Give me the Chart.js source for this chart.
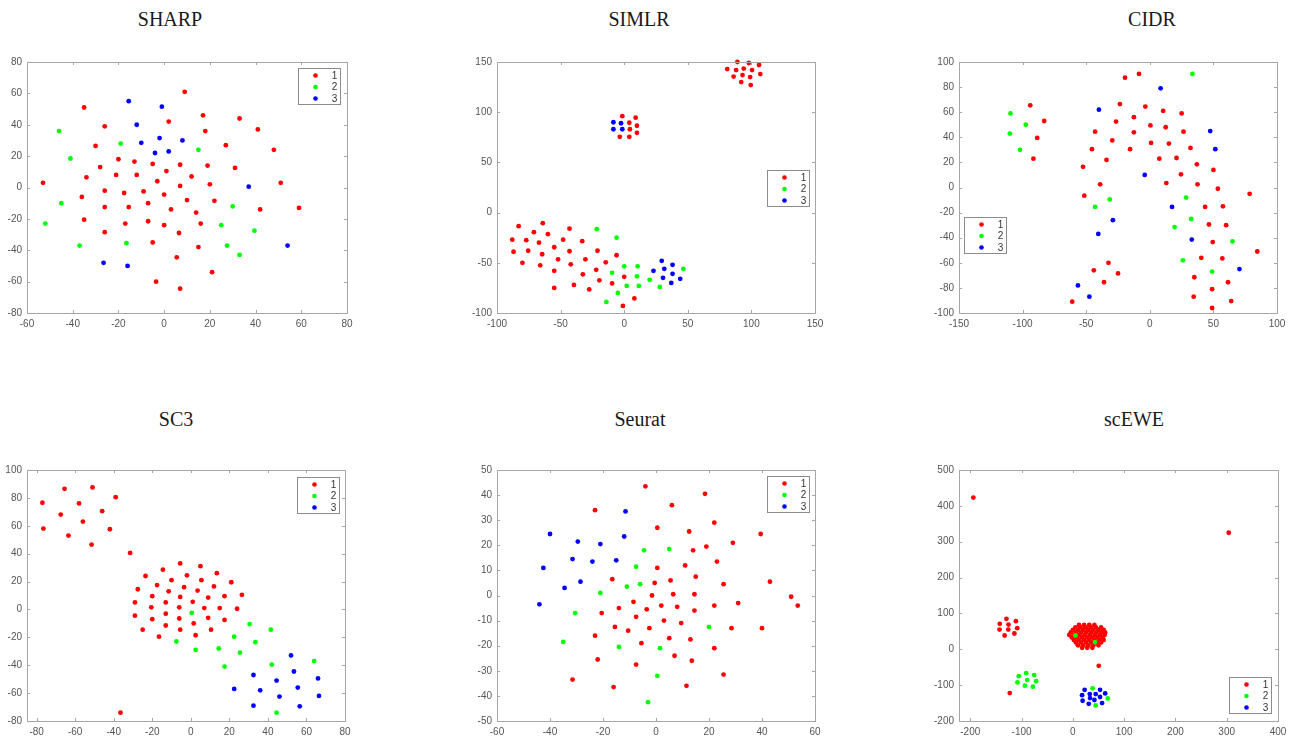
<!DOCTYPE html>
<html>
<head>
<meta charset="utf-8">
<title>Clustering comparison</title>
<script src="https://cdn.jsdelivr.net/npm/chart.js@4.4.0/dist/chart.umd.min.js"></script>
<style>
  body { margin: 0; background: #fff; }
  #page { position: relative; width: 1296px; height: 739px; overflow: hidden; }
  .title {
    position: absolute;
    font-family: "Liberation Serif", "Times New Roman", serif;
    font-size: 20px;
    line-height: 24px;
    color: #1a1a1a;
    transform: translateX(-50%);
    white-space: nowrap;
  }
  .panel { position: absolute; }
</style>
</head>
<body>
<div id="page"></div>
<script>
// Legend / series
const clusterLabels = ["1", "2", "3"];
const clusterColors = ["#ff0000", "#00ff00", "#0000ff"];

// SHARP
const sharpRed = [[9,61],[-35,51],[17,46],[33,44],[-26,39],[2,42],[18,36],[41,37],[-30,26.5],[27,27],[48,24],[-20,18],[-13,16.5],[-28,13],[-5,15],[7,14.5],[19,14],[31,12.5],[1,10.5],[-34,6.5],[-21,8],[-12,8],[12,7],[-3,4],[-53,3],[51,3],[7,1],[20,2],[-36,-6],[-26,-2],[-17.5,-3.5],[-9,-2.5],[0,-4.5],[-7,-10],[10,-8],[22,-8.5],[-26,-12.5],[-15.5,-12.5],[3,-14],[14,-16],[42,-14],[59,-13],[-35,-20.5],[-7,-21.5],[-17,-23],[0,-24],[16,-23],[-26,-28.5],[6.5,-29],[-5,-35],[15,-38],[5.5,-44.5],[21,-54],[-3.5,-60],[7,-64.5]];
const sharpGreen = [[-46,36],[-41,18.5],[-19,28],[15,24],[-45,-10],[-52,-23],[-37,-37],[-16.5,-35.5],[30,-12],[25,-24],[39.5,-27.5],[27.5,-37],[33,-43]];
const sharpBlue = [[-15.5,55],[-1,51.5],[-12,40],[-2,31.5],[-10,28.5],[8,30],[-4,22],[2,23],[37,0.5],[54,-37],[-26.5,-48],[-16,-50]];
const sharpXTicks = [-60,-40,-20,0,20,40,60,80];
const sharpYTicks = [-80,-60,-40,-20,0,20,40,60,80];

// SIMLR
const simlrRed = [[89,150],[98,149],[106,147],[81,143],[88,142],[94,143.5],[100.5,142],[86,135.5],[93,137],[99,135],[107,138],[92,130],[99.5,127],
  [-1.5,96],[9,94.5],[4,89.5],[10,86.5],[4.5,83],[10,79.5],[-3.5,75.5],[4,75.5],
  [-83,-13.5],[-64,-10.5],[-43,-16],[-71,-19.5],[-60,-21.5],[-88,-27],[-77,-27.5],[-67,-30],[-48,-27],[-33,-28.5],[-87,-39],[-75.5,-38],[-64.5,-41.5],[-55,-34.5],[-43,-38.5],[-21,-38],[-6,-42.5],[-80,-50],[-66,-52.5],[-52,-46.5],[-42,-51.5],[-30.5,-46.5],[-14.5,-49.5],[-55,-58],[-22,-57],[-32.5,-61.5],[0,-64],[-19.5,-67.5],[-9.5,-70.5],[-55,-75],[-39.5,-72],[-27.5,-76.5],[8,-85.5],[-1,-93]];
const simlrGreen = [[-21.5,-16.5],[-6,-25],[0,-53.5],[10.5,-53.5],[-9.5,-60],[10,-63.5],[20,-67],[2,-73],[11.5,-73],[28,-74],[-5,-80],[-14,-89],[46.5,-56]];
const simlrBlue = [[-8.5,90],[-2.5,89],[-8.5,83],[-1.5,83],[29.5,-48],[38,-52],[23,-58],[31.5,-56],[38,-61],[30.5,-65],[44,-66],[37,-70]];
const simlrXTicks = [-100,-50,0,50,100,150];
const simlrYTicks = [-100,-50,0,50,100,150];

// CIDR
const cidrRed = [[-19.5,87.5],[-8.5,90.5],[-23.5,66.5],[-3.5,64.5],[10.5,61],[25,59],[-12.5,56],[-26.5,52.5],[0.5,49.5],[12.5,48],[-43,44.5],[-12.5,44],[26.5,44.5],[-29.5,37.5],[1,35.5],[15,35],[-45.5,30.5],[-15.5,30.5],[32,31.5],[-34,22],[7.5,23],[21,23.5],[37,18.5],[-52.5,16.5],[50,14],[24.5,10.5],[-39,2.5],[13,3.5],[37.5,2.5],[53.5,-1],[-51.5,-6.5],[78.5,-5],[43.5,-15.5],[57.5,-15],[46.5,-29.5],[60,-30],[49.5,-43.5],[84.5,-51],[40.5,-56],[57,-56.5],[-32.5,-60],[-44,-66],[-25,-68.5],[-36,-75.5],[35,-71.5],[61.5,-75.5],[49,-81],[-61,-91],[34.5,-87],[64,-90.5],[49,-96],[-94,65.5],[-83,53],[-88.5,39.5],[-91.5,23]];
const cidrGreen = [[-109.5,59],[-97.5,50],[-110,43],[-102,30],[33.5,90.5],[-31.5,-9.5],[-43,-15.5],[28.5,-8],[32.5,-25],[19.5,-31.5],[65,-43],[26,-58],[49,-67]];
const cidrBlue = [[8.5,79],[-40,62],[47.5,45],[51.5,30.5],[-4,10],[17.5,-15.5],[-29,-26],[-40.5,-37],[33,-41.5],[70.5,-65],[-56.5,-78],[-47.5,-87]];
const cidrXTicks = [-150,-100,-50,0,50,100];
const cidrYTicks = [-100,-80,-60,-40,-20,0,20,40,60,80,100];

// SC3
const sc3Red = [[-77,76.5],[-65.5,86.5],[-51,87.5],[-76.5,58],[-67.5,68],[-58,76],[-63.5,53],[-56,63],[-46,70.5],[-39,80.5],[-42,57.5],[-51.5,46.5],[-31.5,40.5],[-36.5,-74],
  [-5.5,33],[5,31],[-14.5,28.5],[13.5,26],[-23.5,24],[-2,24.5],[-10,21],[5.5,21],[21,19.5],[-17.5,17.5],[-3.5,16],[12,16.5],[-27.5,14.5],[-11.5,13],[3.5,13.5],[26.5,10.5],[-5.5,9],[-20,9.5],[9,8.5],[17.5,9.5],[-29,5],[-13,5],[1,5.5],[-20.5,1.5],[-6,1.5],[7,1],[15,1],[24,0.5],[-13,-3],[-29,-4.5],[-20,-7],[-6,-6.5],[9,-6],[17.5,-7.5],[1.5,-10],[-13,-11.5],[-25,-14.5],[-5.5,-14.5],[10.5,-14.5],[-16.5,-19.5],[2.5,-18.5]];
const sc3Green = [[0.5,-2.5],[30.5,-10.5],[41.5,-14.5],[-7.5,-23],[22.5,-19.5],[33.5,-23.5],[2.5,-29],[14.5,-28],[25.5,-31],[17.5,-41],[42,-39.5],[64,-37],[44.5,-74]];
const sc3Blue = [[52,-33],[53.5,-44.5],[32.5,-47],[44.5,-51],[66,-49.5],[22.5,-57],[36,-58],[55.5,-56],[46,-62.5],[66.5,-62],[32.5,-69],[56.5,-69.5]];
const sc3XTicks = [-80,-60,-40,-20,0,20,40,60,80];
const sc3YTicks = [-80,-60,-40,-20,0,20,40,60,80,100];

// Seurat
const seuratRed = [[-4,43.5],[18.5,40.5],[6,36],[-23,34],[0.5,27],[22,29],[12.5,25.5],[39.5,24.5],[29,21],[19,19.5],[14,18],[23,13.5],[0.5,11],[11,12],[-16.5,6.5],[5.5,6],[15,7.5],[-0.5,5],[25.5,4.5],[43,5.5],[6.5,0.5],[14.5,0.5],[-1.5,0],[51,-0.5],[-8.5,-2.5],[31,-3],[53.5,-4],[-20.5,-7],[-14,-5],[-3.5,-5.5],[2,-4],[8,-4.5],[14.5,-6],[22,-4],[-7.5,-8.5],[3,-10],[9.5,-11],[-15.5,-12.5],[-10.5,-14],[-2.5,-13],[28.5,-13],[40,-13],[-23,-16],[5,-17],[13,-17.5],[-5.5,-19],[22,-21],[-22,-25.5],[7,-24],[13.5,-26],[-7.5,-27.5],[25.5,-31.5],[-31.5,-33.5],[-16,-36.5],[11.5,-36]];
const seuratGreen = [[-4.5,18],[5,18.5],[-7.5,11.5],[-6,4.5],[-11,3.5],[-21,1],[-30.5,-7],[20,-12.5],[-35,-18.5],[-14,-20.5],[1.5,-21],[0.5,-32],[-3,-42.5]];
const seuratBlue = [[-11.5,33.5],[-12,23.5],[-40,24.5],[-29.5,21.5],[-21,20.5],[-31.5,14.5],[-24,13.5],[-15,14],[-42.5,11],[-28.5,5.5],[-34.5,3],[-44,-3.5]];
const seuratXTicks = [-60,-40,-20,0,20,40,60];
const seuratYTicks = [-50,-40,-30,-20,-10,0,10,20,30,40,50];

// scEWE
const sceweRed = [[-194,423],[304,325],[50.5,-46],[-123,-122],
  [-129.5,85],[-111,78.5],[-142.5,71],[-125.5,69],[-108.5,59],[-143,55],[-126,55],[-133,38.5],[-114,44],
  [12,68],[22,68],[32,68],[42,68],
  [5,61],[15,61],[25,61],[35,61],[45,61],[55,61],
  [0,54],[10,54],[20,54],[30,54],[40,54],[50,54],[60,54],
  [-4,47],[6,47],[16,47],[26,47],[36,47],[46,47],[56,47],[63,47],
  [-7,40],[3,40],[13,40],[23,40],[33,40],[43,40],[53,40],[62,40],
  [-2,33],[8,33],[18,33],[28,33],[38,33],[48,33],[58,33],
  [2,26],[12,26],[22,26],[32,26],[42,26],[52,26],[60,26],
  [6,19],[16,19],[26,19],[36,19],[46,19],[55,19],
  [10,11],[20,11],[30,11],[40,11],[50,11],
  [18,4],[28,4],[38,4]];
const sceweGreen = [[-91,-66.5],[-105.5,-75],[-75.5,-72],[-89,-86],[-71.5,-89],[-108,-92.5],[-93.5,-101.5],[-78,-104.5],[38.5,-109],[68,-137],[44.5,-156.5],[5,38.5],[43,20]];
const sceweBlue = [[23,-113],[53,-113],[18,-128],[33,-125],[44.5,-125],[63,-123],[33.5,-136],[53,-133],[19,-143.5],[42,-141.5],[31,-152],[57,-150]];
const sceweXTicks = [-200,-100,0,100,200,300,400];
const sceweYTicks = [-200,-100,0,100,200,300,400,500];

// Panel layout (page pixels) and axis ranges
const panels = [
  { title: "SHARP", series: [sharpRed, sharpGreen, sharpBlue], xTicks: sharpXTicks, yTicks: sharpYTicks,
    xMin: -60, xMax: 80, yMin: -80, yMax: 80,
    left: 27, top: 61, w: 320, h: 252, legend: [271, 6], titleX: 170, titleY: 7 },
  { title: "SIMLR", series: [simlrRed, simlrGreen, simlrBlue], xTicks: simlrXTicks, yTicks: simlrYTicks,
    xMin: -100, xMax: 150, yMin: -100, yMax: 150,
    left: 497, top: 61, w: 318, h: 252, legend: [270, 108], titleX: 639, titleY: 7 },
  { title: "CIDR", series: [cidrRed, cidrGreen, cidrBlue], xTicks: cidrXTicks, yTicks: cidrYTicks,
    xMin: -150, xMax: 100, yMin: -100, yMax: 100,
    left: 959, top: 61, w: 318, h: 252, legend: [5, 155], titleX: 1152, titleY: 7 },
  { title: "SC3", series: [sc3Red, sc3Green, sc3Blue], xTicks: sc3XTicks, yTicks: sc3YTicks,
    xMin: -85, xMax: 80, yMin: -80, yMax: 100,
    left: 27, top: 469, w: 318, h: 252, legend: [270, 7], titleX: 176, titleY: 407 },
  { title: "Seurat", series: [seuratRed, seuratGreen, seuratBlue], xTicks: seuratXTicks, yTicks: seuratYTicks,
    xMin: -60, xMax: 60, yMin: -50, yMax: 50,
    left: 497, top: 469, w: 318, h: 252, legend: [270, 6], titleX: 640, titleY: 407 },
  { title: "scEWE", series: [sceweRed, sceweGreen, sceweBlue], xTicks: sceweXTicks, yTicks: sceweYTicks,
    xMin: -222, xMax: 400, yMin: -200, yMax: 500,
    left: 959, top: 469, w: 319, h: 252, legend: [270, 207], titleX: 1134, titleY: 407 }
];

const Y_AXIS_W = 40;
const X_AXIS_H = 22;
const PAD_TOP = 10;
const PAD_RIGHT = 16;

// Box around plot area with inward tick marks (MATLAB look)
const framePlugin = {
  id: "frame",
  afterDatasetsDraw(chart) {
    const { ctx, chartArea: a, scales } = chart;
    ctx.save();
    ctx.strokeStyle = "#a6a6a6";
    ctx.lineWidth = 1;
    ctx.strokeRect(Math.round(a.left) + 0.5, Math.round(a.top) + 0.5,
      Math.round(a.right - a.left), Math.round(a.bottom - a.top));
    ctx.beginPath();
    scales.x.ticks.forEach(t => {
      const px = Math.round(scales.x.getPixelForValue(t.value)) + 0.5;
      ctx.moveTo(px, a.bottom); ctx.lineTo(px, a.bottom - 3);
      ctx.moveTo(px, a.top); ctx.lineTo(px, a.top + 3);
    });
    scales.y.ticks.forEach(t => {
      const py = Math.round(scales.y.getPixelForValue(t.value)) + 0.5;
      ctx.moveTo(a.left, py); ctx.lineTo(a.left + 3, py);
      ctx.moveTo(a.right, py); ctx.lineTo(a.right - 3, py);
    });
    ctx.stroke();
    ctx.restore();
  }
};

// Legend box drawn inside the plot area
const boxLegendPlugin = {
  id: "boxLegend",
  afterDraw(chart, args, opts) {
    const { ctx, chartArea: a } = chart;
    const x = Math.round(a.left + opts.at[0]) + 0.5;
    const y = Math.round(a.top + opts.at[1]) + 0.5;
    const w = 42, h = 36;
    ctx.save();
    ctx.fillStyle = "#fff";
    ctx.fillRect(x, y, w, h);
    ctx.strokeStyle = "#8c8c8c";
    ctx.lineWidth = 1;
    ctx.strokeRect(x, y, w, h);
    ctx.font = "10px 'Liberation Sans', Arial, sans-serif";
    ctx.textAlign = "center";
    ctx.textBaseline = "middle";
    clusterLabels.forEach((label, i) => {
      const cy = y + 7 + i * 11.5;
      ctx.fillStyle = clusterColors[i];
      ctx.beginPath();
      ctx.arc(x + 17, cy, 2.3, 0, Math.PI * 2);
      ctx.fill();
      ctx.fillStyle = "#333";
      ctx.fillText(label, x + 36, cy + 0.5);
    });
    ctx.restore();
  }
};

const page = document.getElementById("page");

panels.forEach(p => {
  const t = document.createElement("div");
  t.className = "title";
  t.textContent = p.title;
  t.style.left = p.titleX + "px";
  t.style.top = p.titleY + "px";
  page.appendChild(t);

  const holder = document.createElement("div");
  holder.className = "panel";
  holder.style.left = (p.left - Y_AXIS_W) + "px";
  holder.style.top = (p.top - PAD_TOP) + "px";
  const canvas = document.createElement("canvas");
  canvas.width = p.w + Y_AXIS_W + PAD_RIGHT;
  canvas.height = p.h + PAD_TOP + X_AXIS_H;
  holder.appendChild(canvas);
  page.appendChild(holder);

  const tickFont = { family: "'Liberation Sans', Arial, sans-serif", size: 10 };

  new Chart(canvas, {
    type: "scatter",
    data: {
      datasets: p.series.map((pts, i) => ({
        label: clusterLabels[i],
        data: pts.map(([x, y]) => ({ x, y })),
        backgroundColor: clusterColors[i],
        borderWidth: 0,
        pointRadius: 2.4,
        pointHoverRadius: 2.4,
        order: 3 - i,
        clip: false
      }))
    },
    options: {
      responsive: false,
      animation: false,
      events: [],
      layout: { padding: { top: PAD_TOP, right: PAD_RIGHT, left: 0, bottom: 0 } },
      plugins: {
        legend: { display: false },
        tooltip: { enabled: false },
        boxLegend: { at: p.legend }
      },
      scales: {
        x: {
          type: "linear",
          min: p.xMin,
          max: p.xMax,
          grid: { display: false, drawTicks: false },
          border: { display: false },
          ticks: { font: tickFont, color: "#555", padding: 5, maxRotation: 0, autoSkip: false },
          afterBuildTicks: s => { s.ticks = p.xTicks.map(v => ({ value: v })); },
          afterFit: s => { s.height = X_AXIS_H; }
        },
        y: {
          type: "linear",
          min: p.yMin,
          max: p.yMax,
          grid: { display: false, drawTicks: false },
          border: { display: false },
          ticks: { font: tickFont, color: "#555", padding: 5, autoSkip: false },
          afterBuildTicks: s => { s.ticks = p.yTicks.map(v => ({ value: v })); },
          afterFit: s => { s.width = Y_AXIS_W; }
        }
      }
    },
    plugins: [framePlugin, boxLegendPlugin]
  });
});
</script>
</body>
</html>
